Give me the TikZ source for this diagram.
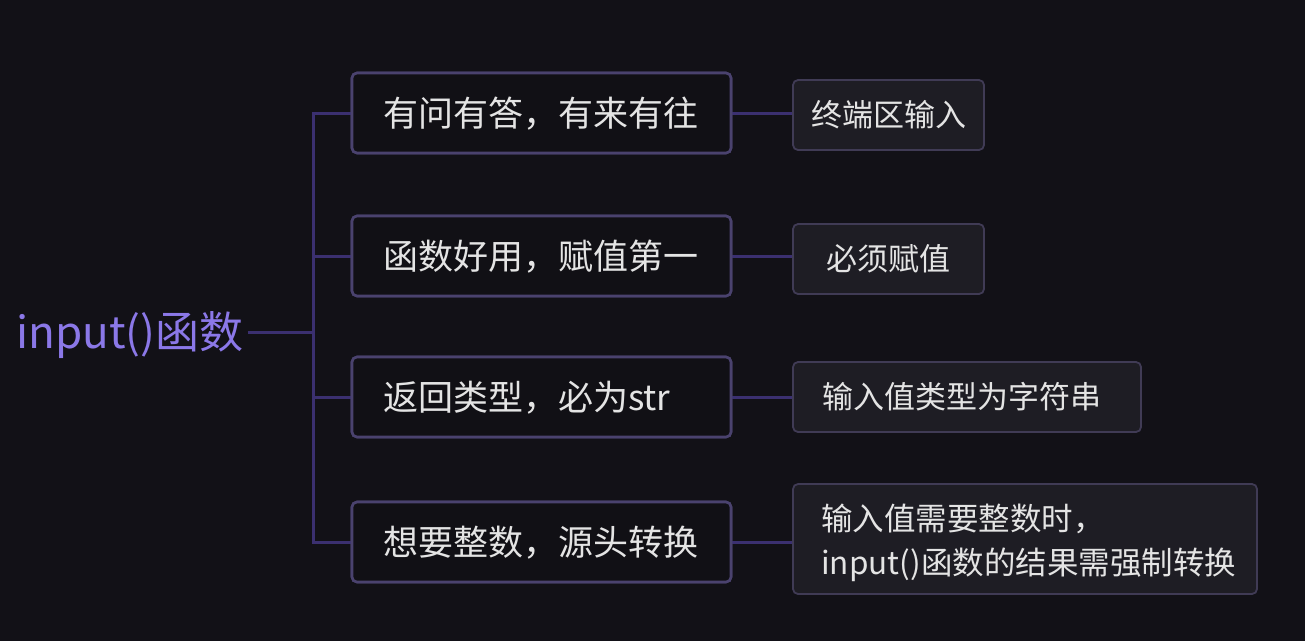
\documentclass[tikz,border=0pt]{standalone}
\usepackage{fontspec}
\setmainfont{Noto Sans CJK SC}
\definecolor{bgc}{HTML}{121117}
\definecolor{lonefill}{HTML}{111015}
\definecolor{loneline}{HTML}{4A426E}
\definecolor{ltwofill}{HTML}{1E1D24}
\definecolor{ltwoline}{HTML}{403B55}
\definecolor{connc}{HTML}{3B3070}
\definecolor{rootc}{HTML}{8B78E8}
\definecolor{txtc}{HTML}{E4E4E4}
\begin{document}
\begin{tikzpicture}[x=1pt,y=-1pt,
  rootstyle/.style={inner sep=0pt,anchor=west,text=rootc,font=\fontsize{44}{50}\selectfont,text height=35.2pt,text depth=1.8pt},
  lone/.style={draw=loneline,fill=lonefill,line width=2.6pt,rounded corners=5pt,minimum width=379pt,minimum height=80pt,inner sep=0pt,text=txtc,font=\fontsize{35}{40}\selectfont,text height=28pt,text depth=1.4pt},
  ltwo/.style={draw=ltwoline,fill=ltwofill,line width=1.8pt,rounded corners=5pt,minimum height=70pt,inner sep=0pt,text=txtc,font=\fontsize{31}{44.5}\selectfont,text height=24.8pt,text depth=1.24pt},
  conn/.style={draw=connc,line width=3pt}]
\fill[bgc] (0,0) rectangle (1305,641);
\useasboundingbox (0,0) rectangle (1305,641);

\node[rootstyle] (root) at (16,332) {input()函数};
\coordinate (trunk) at (313,332);

\node[lone] (b1) at (541.5,113) {\makebox[317pt][l]{有问有答，有来有往}};
\node[lone] (b2) at (541.5,256) {\makebox[317pt][l]{函数好用，赋值第一}};
\node[lone] (b3) at (541.5,397) {\makebox[317pt][l]{返回类型，必为str}};
\node[lone] (b4) at (541.5,542) {\makebox[317pt][l]{想要整数，源头转换}};

\node[ltwo,minimum width=191pt] (c1) at (888.5,115) {终端区输入};
\node[ltwo,minimum width=191pt] (c2) at (888.5,259) {必须赋值};
\node[ltwo,minimum width=348pt] (c3) at (967,397) {\makebox[290pt][l]{输入值类型为字符串}};
\node[ltwo,minimum width=464pt,minimum height=110pt] (c4) at (1025,539) {};
\node[inner sep=0pt,anchor=west,align=left,text=txtc,font=\fontsize{31.5}{44.5}\selectfont] (c4t) at ([xshift=29pt,yshift=-4pt]c4.west) {输入值需要整数时，\\input()函数的结果需强制转换};

\draw[conn] ([xshift=4pt]root.east) -- (trunk);
\draw[conn] (b1.west) -- (b1.west -| trunk) -- (b4.west -| trunk) -- (b4.west);
\draw[conn] (b2.west -| trunk) -- (b2.west);
\draw[conn] (b3.west -| trunk) -- (b3.west);

\draw[conn] (b1.east) -- (b1.east -| c1.west);
\draw[conn] (b2.east) -- (b2.east -| c2.west);
\draw[conn] (b3.east) -- (b3.east -| c3.west);
\draw[conn] (b4.east) -- (b4.east -| c4.west);

% redraw boxes on top of connectors
\node[lone] at (b1) {\makebox[317pt][l]{有问有答，有来有往}};
\node[lone] at (b2) {\makebox[317pt][l]{函数好用，赋值第一}};
\node[lone] at (b3) {\makebox[317pt][l]{返回类型，必为str}};
\node[lone] at (b4) {\makebox[317pt][l]{想要整数，源头转换}};
\end{tikzpicture}
\end{document}
